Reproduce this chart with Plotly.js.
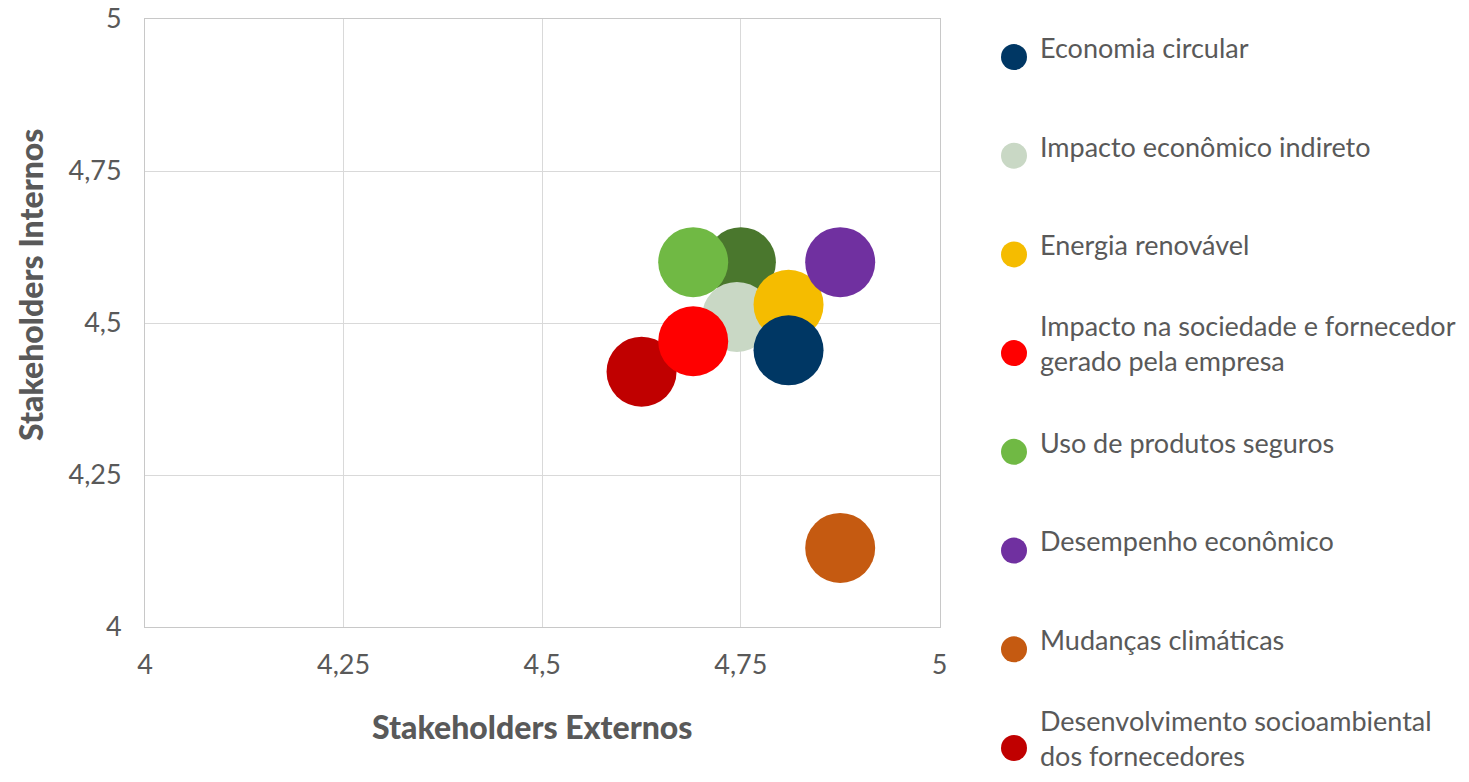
<!DOCTYPE html>
<html>
<head>
<meta charset="utf-8">
<script src="https://cdn.plot.ly/plotly-3.0.1.min.js"></script>
<style>html,body{margin:0;padding:0;background:#fff;}</style>
</head>
<body>
<div id="chart" style="width:1469px;height:782px;"></div>
<script>
// Data
var categories = [
  "Economia circular",
  "Impacto econômico indireto",
  "Energia renovável",
  "Impacto na sociedade e fornecedor<br>gerado pela empresa",
  "Uso de produtos seguros",
  "Desempenho econômico",
  "Mudanças climáticas",
  "Desenvolvimento socioambiental<br>dos fornecedores"
];
var externos = [4.81, 4.745, 4.81, 4.69, 4.69, 4.875, 4.875, 4.625];
var internos = [4.455, 4.51, 4.53, 4.47, 4.60, 4.60, 4.13, 4.42];
var colors = ["#003764", "#c9d8c5", "#f5bc00", "#ff0000", "#70b944", "#7030a0", "#c55a11", "#c00000"];

// extra (unlabelled) bubble visible in the picture
var extraExterno = [4.75];
var extraInterno = [4.60];
var extraColor = "#4a772d";

var W = 1469, H = 782;
function px(x) { return x / W; }
function py(y) { return (H - y) / H; }

var bubble = function (i) {
  return {
    type: "scatter",
    mode: "markers",
    x: [externos[i]],
    y: [internos[i]],
    name: categories[i].replace("<br>", " "),
    marker: {color: colors[i], size: 70, line: {width: 0}},
    hoverinfo: "x+y+name",
    showlegend: false
  };
};

var traces = [];
traces.push(bubble(7));
traces.push({
  type: "scatter", mode: "markers",
  x: extraExterno, y: extraInterno,
  marker: {color: extraColor, size: 70, line: {width: 0}},
  hoverinfo: "x+y", showlegend: false
});
[4, 1, 2, 0, 3, 5, 6].forEach(function (i) { traces.push(bubble(i)); });

// legend drawn on its own small axes: symbols, then labels
traces.push({
  type: "scatter",
  mode: "markers",
  xaxis: "x2",
  yaxis: "y2",
  x: categories.map(function () { return 0; }),
  y: categories.map(function (c, i) { return i; }),
  marker: {color: colors, size: 26, line: {width: 0}},
  hoverinfo: "skip",
  showlegend: false,
  cliponaxis: false
});
traces.push({
  type: "scatter",
  mode: "text",
  xaxis: "x2",
  yaxis: "y2",
  x: categories.map(function () { return 26; }),
  y: categories.map(function (c, i) { return i - 0.06; }),
  text: categories,
  textposition: "middle right",
  textfont: {family: "Lato, 'Open Sans', sans-serif", size: 27, color: "#595959"},
  hoverinfo: "skip",
  showlegend: false,
  cliponaxis: false
});

var axisCommon = {
  range: [4, 5],
  tick0: 4,
  dtick: 0.25,
  showgrid: true,
  gridcolor: "#d9d9d9",
  gridwidth: 1,
  zeroline: false,
  showline: true,
  mirror: true,
  linecolor: "#c8c8c8",
  linewidth: 1,
  ticks: "",
  tickfont: {size: 27, color: "#595959"},
  fixedrange: true,
  automargin: false
};

var layout = {
  width: W,
  height: H,
  margin: {l: 0, r: 0, t: 0, b: 0, pad: 0},
  paper_bgcolor: "#ffffff",
  plot_bgcolor: "#ffffff",
  separators: ",.",
  font: {family: "Lato, 'Open Sans', sans-serif", size: 27, color: "#595959"},
  showlegend: false,
  xaxis: Object.assign({}, axisCommon, {
    domain: [px(145), px(939.5)],
    anchor: "y",
    ticklabelstandoff: 14
  }),
  yaxis: Object.assign({}, axisCommon, {
    domain: [py(627), py(19)],
    anchor: "x",
    ticklabelstandoff: 17
  }),
  xaxis2: {
    domain: [px(1000), 1],
    range: [-14, 455],
    anchor: "y2",
    visible: false,
    fixedrange: true
  },
  yaxis2: {
    domain: [0, 1],
    range: [7.345, -0.5775],
    anchor: "x2",
    visible: false,
    fixedrange: true
  },
  annotations: [
    {
      text: "Stakeholders Externos",
      xref: "paper", yref: "paper",
      x: px(532), y: py(726),
      xanchor: "center", yanchor: "middle",
      showarrow: false,
      font: {size: 32, color: "#595959", weight: 900}
    },
    {
      text: "Stakeholders Internos",
      xref: "paper", yref: "paper",
      x: px(30), y: py(285),
      xanchor: "center", yanchor: "middle",
      textangle: -90,
      showarrow: false,
      font: {size: 32, color: "#595959", weight: 900}
    }
  ]
};

Plotly.newPlot("chart", traces, layout, {displayModeBar: false});
</script>
</body>
</html>
